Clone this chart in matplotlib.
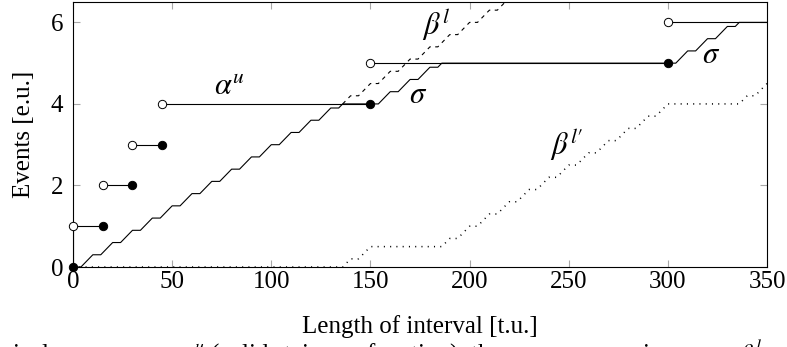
import matplotlib.pyplot as plt

plt.rcParams["font.family"] = ["Liberation Serif", "DejaVu Serif"]
plt.rcParams["mathtext.fontset"] = "stix"

# upper arrival curve alpha^u (jump points)
alpha_x = [0, 15, 30, 45, 150, 300]
alpha_closed = [0, 1, 2, 3, 4, 5]
alpha_open = [1, 2, 3, 4, 5, 6]

# service seen by the task (sigma)
sigma_x = [0, 4, 10, 14, 20, 24, 30, 34, 40, 44, 50, 54, 60, 64, 70, 74, 80, 84,
           90, 94, 100, 104, 110, 114, 120, 124, 130, 134, 136, 154, 160, 164,
           170, 174, 180, 184, 186, 304, 310, 314, 320, 324, 330, 334, 336, 350]
sigma_y = [0, 0, 0.3, 0.3, 0.6, 0.6, 0.9, 0.9, 1.2, 1.2, 1.5, 1.5, 1.8, 1.8,
           2.1, 2.1, 2.4, 2.4, 2.7, 2.7, 3.0, 3.0, 3.3, 3.3, 3.6, 3.6, 3.9, 3.9,
           4.0, 4.0, 4.3, 4.3, 4.6, 4.6, 4.9, 4.9, 5.0, 5.0, 5.3, 5.3, 5.6, 5.6,
           5.9, 5.9, 6.0, 6.0]

# lower service curve beta^l (part not hidden by sigma)
beta_x = [136, 140, 144, 150, 154, 160, 164, 170, 174, 180, 184, 190, 194,
          200, 204, 210, 214, 220]
beta_y = [4.0, 4.2, 4.2, 4.5, 4.5, 4.8, 4.8, 5.1, 5.1, 5.4, 5.4, 5.7, 5.7,
          6.0, 6.0, 6.3, 6.3, 6.6]

# remaining service curve beta^l'
rest_x = [0, 136, 140, 144, 150, 186, 190, 194, 200, 204, 210, 214, 220, 224,
          230, 234, 240, 244, 250, 254, 260, 264, 270, 274, 280, 284, 290, 294,
          300, 336, 340, 344, 350]
rest_y = [0, 0, 0.2, 0.2, 0.5, 0.5, 0.7, 0.7, 1.0, 1.0, 1.3, 1.3, 1.6, 1.6,
          1.9, 1.9, 2.2, 2.2, 2.5, 2.5, 2.8, 2.8, 3.1, 3.1, 3.4, 3.4, 3.7, 3.7,
          4.0, 4.0, 4.2, 4.2, 4.5]

fig = plt.figure(figsize=(7.87, 3.47), dpi=100)
ax = fig.add_axes([73 / 787, 80 / 347, 694 / 787, 265 / 347])

lw = 0.8
ax.plot(sigma_x, sigma_y, color="black", lw=lw, zorder=3)
ax.plot(beta_x, beta_y, color="black", lw=lw, linestyle=(0, (3.5, 4)), zorder=3)
ax.plot(rest_x, rest_y, color="black", lw=1.1, linestyle=(0, (0.7, 3.4)), zorder=3)

ends = alpha_x[1:] + [350]
ax.hlines(alpha_open, alpha_x, ends, color="black", lw=lw, zorder=3)
ax.vlines(0, 0, 1, color="black", lw=lw, zorder=3)
ax.plot(alpha_x, alpha_closed, "o", ms=6, mfc="black", mec="black", mew=0.7,
        zorder=5, clip_on=False)
ax.plot(alpha_x, alpha_open, "o", ms=6, mfc="white", mec="black", mew=0.7,
        zorder=5, clip_on=False)

fs = 18
gs = 22
ax.text(79, 4.4, r"$\alpha^u$", fontsize=gs, ha="center", va="center")
ax.text(174, 4.2, r"$\sigma$", fontsize=gs, ha="center", va="center")
ax.text(322, 5.2, r"$\sigma$", fontsize=gs, ha="center", va="center")
ax.text(183, 5.95, r"$\beta^l$", fontsize=gs, ha="center", va="center")
ax.text(249, 3.0, r"$\beta^{l\prime}$", fontsize=gs, ha="center", va="center")

ax.set_xlim(0, 350)
ax.set_ylim(0, 6.5)
ax.set_xticks([0, 50, 100, 150, 200, 250, 300, 350])
ax.set_yticks([0, 2, 4, 6])
ax.tick_params(direction="in", length=5, width=0.8, color="#a8a8a8",
               top=True, right=True, labelsize=fs)
ax.tick_params(axis="x", pad=3)
ax.tick_params(axis="y", pad=7)
for s in ax.spines.values():
    s.set_linewidth(0.8)

ax.set_xlabel("Length of interval [t.u.]", fontsize=fs, labelpad=16)
ax.set_ylabel("Events [e.u.]", fontsize=fs, labelpad=11)

fig.text(12 / 787, 0.026,
         r"ical upper curve $\alpha^u$ (solid staircase function), the common service curve $\beta^l$",
         fontsize=fs, ha="left", va="top")

fig.savefig("out.png", dpi=100)
